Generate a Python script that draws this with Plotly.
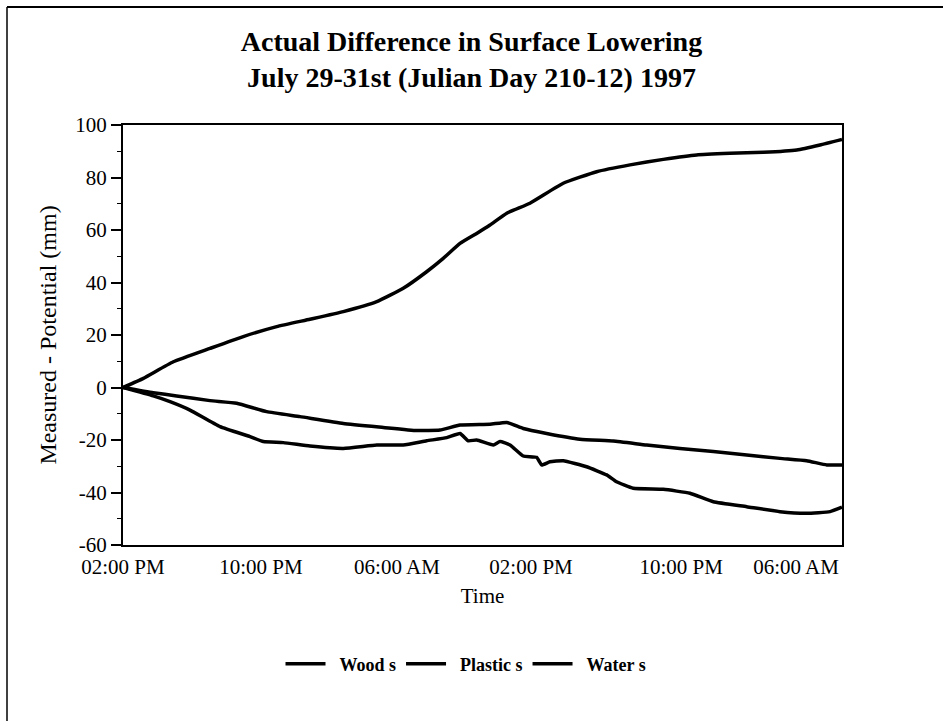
import plotly.graph_objects as go

# Hours since 02:00 PM, July 29 1997
wood_x = [0, 1.36, 3.36, 5.81, 8.03, 10.26, 12.48, 14.71, 16.94, 18.71, 20.27, 21.38, 22.50,
          23.61, 24.50, 25.62, 27.17, 29.39, 31.62, 33.85, 36.07, 38.30, 40.52, 42.75, 44.98,
          46.53, 48.0]
wood_y = [0, 3.5, 9.8, 14.9, 19.4, 23.2, 26.0, 28.9, 32.7, 37.8, 44.1, 49.2, 54.9,
          58.7, 61.9, 66.4, 70.2, 77.8, 82.2, 84.8, 86.9, 88.6, 89.2, 89.6, 90.5,
          92.4, 94.5]

plastic_x = [0, 2.02, 3.58, 5.81, 7.59, 9.59, 11.82, 14.71, 17.38, 19.61, 21.16, 22.50, 24.50,
             25.62, 26.72, 28.28, 30.51, 32.73, 34.96, 37.18, 39.41, 41.64, 43.86, 45.64,
             46.98, 48.0]
plastic_y = [0, -2.0, -3.2, -5.0, -6.0, -9.2, -11.1, -13.7, -15.2, -16.4, -16.2, -14.3, -14.0,
             -13.3, -15.6, -17.5, -19.7, -20.4, -21.9, -23.2, -24.4, -25.7, -27.0, -27.9,
             -29.5, -29.5]

water_x = [0, 2.02, 3.14, 4.47, 6.48, 8.48, 9.37, 10.70, 12.48, 14.71, 16.94, 18.71, 20.27,
           21.61, 22.50, 23.05, 23.61, 24.72, 25.17, 25.84, 26.72, 27.61, 27.95, 28.50, 29.39,
           30.95, 32.29, 32.95, 34.06, 36.07, 37.85, 39.41, 41.64, 43.86, 45.64, 47.20, 48.0]
water_y = [0, -3.2, -5.4, -8.6, -14.9, -18.7, -20.6, -21.0, -22.3, -23.2, -21.9, -21.9, -20.3,
           -19.1, -17.5, -20.3, -20.0, -21.9, -20.6, -21.9, -26.1, -26.6, -29.5, -28.3, -27.9,
           -30.2, -33.3, -35.9, -38.4, -38.8, -40.3, -43.5, -45.4, -47.3, -47.9, -47.3, -45.6]

x_tick_hours = [0, 9.21, 18.29, 27.24, 37.26, 44.93]
x_tick_labels = ["02:00 PM", "10:00 PM", "06:00 AM", "02:00 PM", "10:00 PM", "06:00 AM"]
y_tick_vals = [-60, -40, -20, 0, 20, 40, 60, 80, 100]
y_tick_labels = ["-60", "-40", "-20", "0", "20", "40", "60", "80", "100"]

series_names = ["Wood s", "Plastic s", "Water s"]

FONT = "Liberation Serif, Times New Roman, serif"
PAD = "\u00a0\u00a0"

fig = go.Figure()
for name, xs, ys in [(series_names[0], wood_x, wood_y),
                     (series_names[1], plastic_x, plastic_y),
                     (series_names[2], water_x, water_y)]:
    fig.add_trace(go.Scatter(x=xs, y=ys, mode="lines", name=PAD + name,
                             line=dict(color="black", width=3.5, shape="spline", smoothing=0.4)))

L, R, T, B = 123, 101, 125, 176
W, H = 943, 721
pw, ph = W - L - R, H - T - B

fig.update_layout(
    width=W, height=H,
    margin=dict(l=L, r=R, t=T, b=B),
    paper_bgcolor="white", plot_bgcolor="white",
    font=dict(family=FONT, color="black", size=21),
    title=dict(text="<b>Actual Difference in Surface Lowering<br>July 29-31st (Julian Day 210-12) 1997</b>",
               x=0.5, xanchor="center", y=1 - 51 / H, yanchor="middle",
               font=dict(family=FONT, size=28, color="black")),
    showlegend=True,
    legend=dict(orientation="h", x=(466 - L) / pw, xanchor="center",
                y=(T + ph - 664) / ph, yanchor="middle",
                font=dict(family=FONT, size=18, color="black", weight="bold"),
                itemwidth=40, bgcolor="rgba(0,0,0,0)"),
    xaxis=dict(range=[0, 48], tickmode="array", tickvals=x_tick_hours, ticktext=x_tick_labels,
               showline=True, linecolor="black", linewidth=2, mirror=True,
               showgrid=False, zeroline=False, ticks="outside", ticklen=2, tickcolor="white",
               tickfont=dict(family=FONT, size=21),
               title=dict(text="Time", font=dict(family=FONT, size=21), standoff=10)),
    yaxis=dict(range=[-60, 100], tickmode="array", tickvals=y_tick_vals, ticktext=y_tick_labels,
               showline=True, linecolor="black", linewidth=2, mirror=True,
               showgrid=False, zeroline=False, ticks="outside", ticklen=10, tickwidth=1.5,
               tickcolor="black",
               minor=dict(dtick=10, tick0=0, ticks="outside", ticklen=4, tickcolor="black",
                          tickwidth=1.2),
               tickfont=dict(family=FONT, size=21),
               title=dict(text="Measured - Potential (mm)", font=dict(family=FONT, size=24),
                          standoff=12)),
)

# outer chart frame (top and left edges visible in the reference)
fig.add_shape(type="line", xref="paper", yref="paper",
              x0=(7 - L) / pw, x1=(943 - L) / pw, y0=1 + (T - 7) / ph, y1=1 + (T - 7) / ph,
              line=dict(color="black", width=2))
fig.add_shape(type="line", xref="paper", yref="paper",
              x0=(7 - L) / pw, x1=(7 - L) / pw, y0=1 + (T - 7) / ph, y1=(T + ph - 721) / ph,
              line=dict(color="black", width=1.5))

fig.write_html("out.html", config={"displayModeBar": False},
               post_script="document.body.style.margin='0';document.body.style.overflow='hidden';")
